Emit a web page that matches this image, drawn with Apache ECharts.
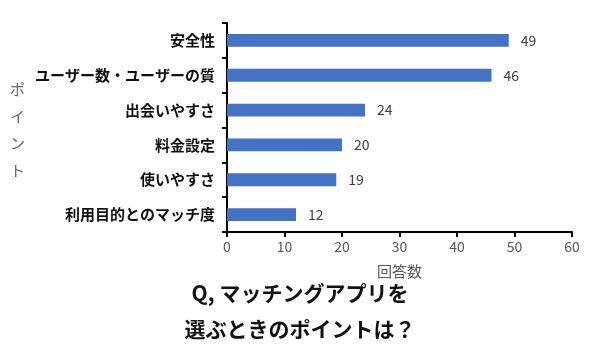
<!DOCTYPE html>
<html><head><meta charset="utf-8">
<script src="https://cdn.jsdelivr.net/npm/echarts@6/dist/echarts.min.js"></script>
<style>html,body{margin:0;padding:0;background:#fff}#c{width:600px;height:360px}</style>
</head><body><div id="c"></div>
<script>
const categories = ['利用目的とのマッチ度','使いやすさ','料金設定','出会いやすさ','ユーザー数・ユーザーの質','安全性'];
const values = [12, 19, 20, 24, 46, 49];
const xTicks = [0, 10, 20, 30, 40, 50, 60];
const titleLines = ['Q, マッチングアプリを', '選ぶときのポイントは？'];
const FONT = '"Noto Sans CJK JP", "Noto Sans", sans-serif';
const chart = echarts.init(document.getElementById('c'));
chart.setOption({
  animation: false,
  backgroundColor: '#fff',
  textStyle: {fontFamily: FONT},
  grid: {left: 227, right: 28, top: 23, bottom: 128},
  graphic: [
    {type: 'text', left: 'center', top: 283, style: {text: titleLines[0], font: 'bold 21px ' + FONT, fill: '#111'}},
    {type: 'text', left: 'center', top: 319, style: {text: titleLines[1], font: 'bold 21px ' + FONT, fill: '#111'}},
    {type: 'text', left: 10, top: 76, style: {text: 'ポ\nイ\nン\nト', font: '15px ' + FONT, fill: '#666', lineHeight: 27}}
  ],
  xAxis: {
    type: 'value', min: xTicks[0], max: xTicks[xTicks.length-1], interval: 10,
    name: '回答数', nameLocation: 'middle', nameGap: 32,
    nameTextStyle: {color: '#595959', fontSize: 15, fontFamily: FONT},
    axisLine: {show: true, lineStyle: {color: '#000', width: 2}},
    axisTick: {show: true, length: 5, lineStyle: {color: '#000', width: 2}},
    axisLabel: {color: '#595959', fontSize: 14, margin: 8, fontFamily: FONT},
    splitLine: {show: false}
  },
  yAxis: {
    type: 'category', data: categories,
    axisLine: {show: true, lineStyle: {color: '#000', width: 2}},
    axisTick: {show: true, length: 5, lineStyle: {color: '#000', width: 2}},
    axisLabel: {color: '#111', fontSize: 15, fontWeight: 'bold', margin: 12, fontFamily: FONT}
  },
  series: [{
    type: 'bar', data: values, barWidth: '37%',
    itemStyle: {color: '#4472C4'},
    label: {show: true, position: 'right', distance: 12, color: '#404040', fontSize: 14, fontFamily: FONT}
  }]
});
</script></body></html>
